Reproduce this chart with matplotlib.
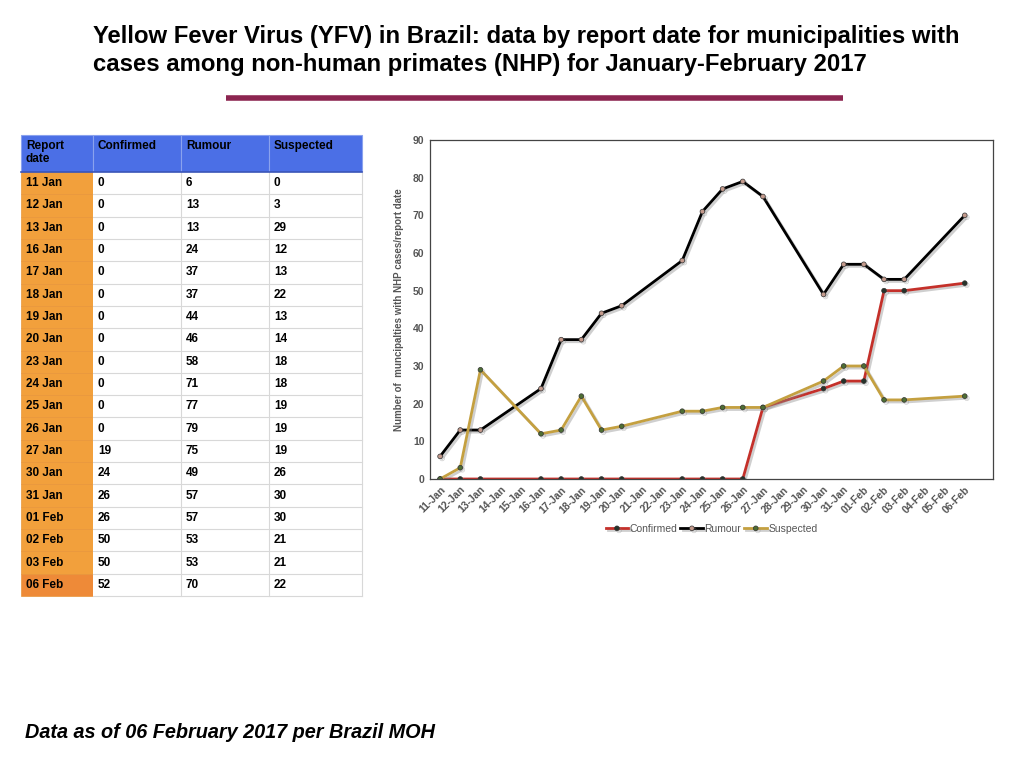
#!/usr/bin/env python3
import pandas as pd
import matplotlib
matplotlib.use('Agg')
import matplotlib.pyplot as plt
import matplotlib.patheffects as pe
from matplotlib.patches import Rectangle

plt.rcParams['font.family'] = ['Liberation Sans', 'DejaVu Sans']

report_dates = ['11 Jan', '12 Jan', '13 Jan', '16 Jan', '17 Jan', '18 Jan', '19 Jan',
                '20 Jan', '23 Jan', '24 Jan', '25 Jan', '26 Jan', '27 Jan', '30 Jan',
                '31 Jan', '01 Feb', '02 Feb', '03 Feb', '06 Feb']
confirmed = [0, 0, 0, 0, 0, 0, 0, 0, 0, 0, 0, 0, 19, 24, 26, 26, 50, 50, 52]
rumour = [6, 13, 13, 24, 37, 37, 44, 46, 58, 71, 77, 79, 75, 49, 57, 57, 53, 53, 70]
suspected = [0, 3, 29, 12, 13, 22, 13, 14, 18, 18, 19, 19, 19, 26, 30, 30, 21, 21, 22]

# every calendar day on the chart axis
axis_days = pd.date_range('2017-01-11', '2017-02-06', freq='D')
axis_labels = [d.strftime('%d-%b') for d in axis_days]

title = ("Yellow Fever Virus (YFV) in Brazil: data by report date for municipalities with\n"
         "cases among non-human primates (NHP) for January-February 2017")
footer = "Data as of 06 February 2017 per Brazil MOH"

W, H = 1024, 768
fig = plt.figure(figsize=(W / 100, H / 100), dpi=100)

# overlay axes in pixel coordinates (y down)
bg = fig.add_axes([0, 0, 1, 1])
bg.set_xlim(0, W)
bg.set_ylim(H, 0)
bg.axis('off')

bg.text(93, 25, title, fontsize=17.2, fontweight='bold', va='top', ha='left',
        linespacing=1.27, color='black')
bg.plot([226, 843], [98, 98], color='#8c2550', lw=4, solid_capstyle='butt')
bg.text(25, 733, footer, fontsize=14.3, fontweight='bold', style='italic', va='center')

# ---- table ----
col_x = [21, 93, 181, 269, 362]
top, head_bot = 135, 172
row_h = (596 - head_bot) / len(report_dates)
headers = ['Report\ndate', 'Confirmed', 'Rumour', 'Suspected']

for i in range(4):
    bg.add_patch(Rectangle((col_x[i], top), col_x[i + 1] - col_x[i], head_bot - top,
                           facecolor='#4b6fe6', edgecolor='#8aa2ee', lw=0.8))
    bg.text(col_x[i] + 5, top + 5, headers[i], fontsize=8.5, fontweight='bold',
            va='top', ha='left', linespacing=1.1)

for r, d in enumerate(report_dates):
    y0 = head_bot + r * row_h
    fc = '#ee8a38' if r == len(report_dates) - 1 else '#f2a03c'
    bg.add_patch(Rectangle((col_x[0], y0), col_x[1] - col_x[0], row_h,
                           facecolor=fc, edgecolor='#e8963a', lw=0.5))
    bg.add_patch(Rectangle((col_x[1], y0), col_x[4] - col_x[1], row_h,
                           facecolor='white', edgecolor='none'))
    bg.plot([col_x[1], col_x[4]], [y0 + row_h, y0 + row_h], color='#d8d8d8', lw=0.8)
    vals = [d, confirmed[r], rumour[r], suspected[r]]
    for i, v in enumerate(vals):
        bg.text(col_x[i] + 5, y0 + row_h / 2, str(v), fontsize=8.5, fontweight='bold',
                va='center', ha='left')
for x in col_x[2:]:
    bg.plot([x, x], [head_bot, head_bot + row_h * len(report_dates)], color='#d8d8d8', lw=0.8)
bg.plot([col_x[0], col_x[4]], [head_bot, head_bot], color='#3a55b8', lw=1.2)

# ---- chart ----
ax = fig.add_axes([430 / W, 1 - 479 / H, (993 - 430) / W, (479 - 140) / H])
year_dates = [pd.to_datetime(d + ' 2017', format='%d %b %Y') for d in report_dates]
pos = [(d - axis_days[0]).days for d in year_dates]

shadow = [pe.SimpleLineShadow(offset=(1.5, -1.5), shadow_color='#888888', alpha=0.4), pe.Normal()]
series = [
    ('Confirmed', confirmed, '#c4302a', '#26332a'),
    ('Rumour', rumour, '#000000', '#c49a8c'),
    ('Suspected', suspected, '#c4a040', '#4e6e34'),
]
for name, vals, lc, mc in series:
    ax.plot(pos, vals, color=lc, lw=2, marker='o', ms=3.4, mfc=mc, mec='#333333',
            mew=0.5, label=name, path_effects=shadow)

ax.set_xlim(-0.5, 27.4)
ax.set_ylim(0, 90)
ax.set_yticks(range(0, 91, 10))
ax.set_xticks(range(len(axis_labels)))
ax.set_xticklabels(axis_labels, rotation=45, ha='right', rotation_mode='anchor')
ax.tick_params(axis='both', labelsize=7.5, colors='#555555', length=0, pad=4)
for s in ax.spines.values():
    s.set_color('#444444')
    s.set_linewidth(0.9)
ax.set_ylabel('Number of  muncipalties with NHP cases/report date', fontsize=7,
              fontweight='bold', color='#555555', labelpad=6)
for t in ax.get_yticklabels() + ax.get_xticklabels():
    t.set_fontweight('bold')

ax.legend(loc='upper center', bbox_to_anchor=(0.5, -0.105), ncol=3, frameon=False,
          fontsize=7.5, handlelength=2.2, handletextpad=0.1, columnspacing=0.3,
          labelcolor='#555555')

fig.savefig('out.png', dpi=100)
